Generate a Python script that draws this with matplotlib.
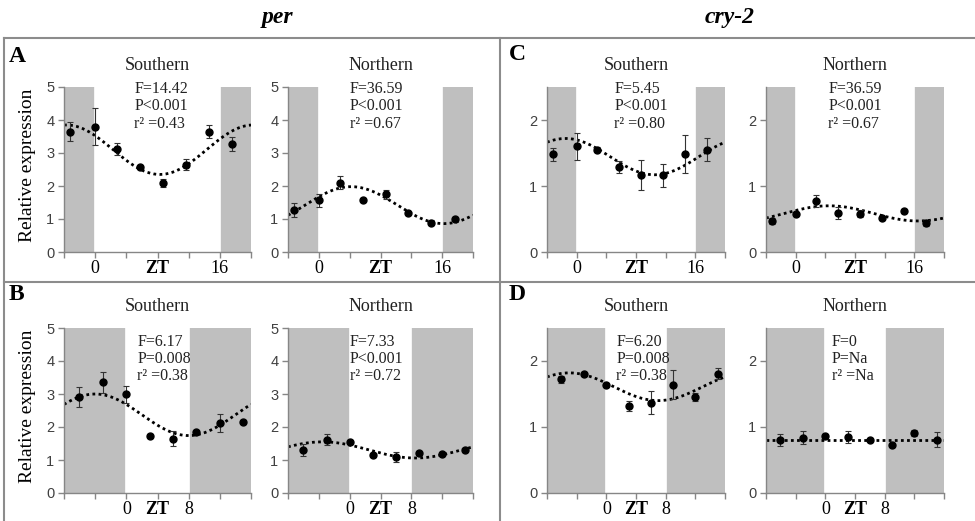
import numpy as np
import matplotlib
matplotlib.use("Agg")
import matplotlib.pyplot as plt
from matplotlib.lines import Line2D

plt.rcParams['font.family'] = ['Liberation Serif', 'DejaVu Serif']

W, H = 975, 521

# sampling times (ZT hours)
t_top = [-3.2, 0, 2.8, 5.7, 8.7, 11.6, 14.6, 17.6]
t_bot = [-6.1, -3.0, 0, 3.0, 6.0, 9.0, 12.0, 15.0]

# relative expression, mean and error
per_s_top = [3.65, 3.80, 3.12, 2.57, 2.08, 2.65, 3.65, 3.27]
per_s_top_err = [0.28, 0.57, 0.18, 0.03, 0.12, 0.17, 0.21, 0.21]
per_n_top = [1.27, 1.57, 2.10, 1.59, 1.75, 1.17, 0.89, 1.01]
per_n_top_err = [0.20, 0.20, 0.20, 0.04, 0.13, 0.04, 0.07, 0.04]
cry_s_top = [1.48, 1.60, 1.55, 1.29, 1.17, 1.16, 1.49, 1.55]
cry_s_top_err = [0.10, 0.20, 0.04, 0.09, 0.23, 0.18, 0.29, 0.17]
cry_n_top = [0.47, 0.58, 0.77, 0.59, 0.58, 0.52, 0.62, 0.44]
cry_n_top_err = [0.04, 0.03, 0.09, 0.09, 0.05, 0.03, 0.03, 0.05]
per_s_bot = [2.90, 3.35, 2.99, 1.73, 1.65, 1.84, 2.13, 2.16]
per_s_bot_err = [0.30, 0.33, 0.25, 0.05, 0.24, 0.04, 0.27, 0.04]
per_n_bot = [1.30, 1.62, 1.55, 1.14, 1.10, 1.20, 1.18, 1.30]
per_n_bot_err = [0.18, 0.17, 0.05, 0.04, 0.15, 0.04, 0.05, 0.06]
cry_s_bot = [1.72, 1.81, 1.63, 1.32, 1.37, 1.64, 1.46, 1.81]
cry_s_bot_err = [0.05, 0.03, 0.03, 0.07, 0.17, 0.22, 0.06, 0.09]
cry_n_bot = [0.80, 0.84, 0.87, 0.85, 0.81, 0.72, 0.91, 0.81]
cry_n_bot_err = [0.09, 0.10, 0.03, 0.09, 0.02, 0.02, 0.04, 0.12]

# cosinor fits: mesor, amplitude, acrophase (h)
fits = [(3.10, 0.75, -3.7), (1.42, 0.56, 4.2), (1.445, 0.275, -1.5), (0.585, 0.115, 4.5),
        (2.37, 0.63, -4.0), (1.305, 0.245, -3.5), (1.61, 0.21, -5.0), (0.81, 0.0, 0.0)]

stats = ["F=14.42\nP<0.001\nr² =0.43", "F=36.59\nP<0.001\nr² =0.67",
         "F=5.45\nP<0.001\nr² =0.80", "F=36.59\nP<0.001\nr² =0.67",
         "F=6.17\nP=0.008\nr² =0.38", "F=7.33\nP<0.001\nr² =0.72",
         "F=6.20\nP=0.008\nr² =0.38", "F=0\nP=Na\nr² =Na"]
stats_x = [5.0, 4.0, 5.1, 4.4, 1.4, 0.0, 1.35, 0.9]

means = [per_s_top, per_n_top, cry_s_top, cry_n_top, per_s_bot, per_n_bot, cry_s_bot, cry_n_bot]
errs = [per_s_top_err, per_n_top_err, cry_s_top_err, cry_n_top_err,
        per_s_bot_err, per_n_bot_err, cry_s_bot_err, cry_n_bot_err]
titles = ["Southern", "Northern"] * 4

cols = [(64, 251), (288, 473), (547, 725), (766, 944)]
rows = [(87, 252), (328, 493)]

fig = plt.figure(figsize=(W / 100, H / 100), dpi=100)

def cosinor(t, mesor, amp, phase):
    return mesor + amp * np.cos(2 * np.pi * (t - phase) / 24)

shade = '#BFBFBF'
axcol = '#868686'

for i in range(8):
    r, c = divmod(i, 4)
    x0, x1 = cols[c]
    y0, y1 = rows[r]
    ax = fig.add_axes([x0 / W, 1 - y1 / H, (x1 - x0) / W, (y1 - y0) / H])
    t = t_top if r == 0 else t_bot
    if r == 0:
        lo, hi, light_end = -4, 20, 16
        ticks = [-4, 0, 4, 8, 12, 16, 20]
        labels = ['', '0', '', 'ZT', '', '16', '']
    else:
        lo, hi, light_end = -8, 16, 8
        ticks = [-8, -4, 0, 4, 8, 12, 16]
        labels = ['', '', '0', 'ZT', '8', '', '']
    ymax = 5 if c < 2 else 2.5
    ax.axvspan(lo, 0, color=shade, lw=0, zorder=0)
    ax.axvspan(light_end, hi, color=shade, lw=0, zorder=0)
    # white gaps at light/dark edges
    ax.axvline(0, color='white', lw=1.2, zorder=0.5)
    ax.axvline(light_end, color='white', lw=1.2, zorder=0.5)

    tt = np.linspace(lo, hi, 300)
    m, a, p = fits[i]
    ax.plot(tt, cosinor(tt, m, a, p), color='black', lw=2, ls=(0, (1, 1.2)), zorder=2)
    ax.errorbar(t, means[i], yerr=errs[i], fmt='o', color='black', ms=5,
                ecolor='#333333', elinewidth=0.8, capsize=2.5, capthick=0.8, zorder=3)

    ax.set_xlim(lo, hi)
    ax.set_ylim(0, ymax)
    ax.set_xticks(ticks)
    ax.set_xticklabels(labels, fontsize=13)
    for lab in ax.get_xticklabels():
        if lab.get_text() == 'ZT':
            lab.set_fontweight('bold')
    ax.set_yticks(range(0, int(ymax) + 1))
    for lab in ax.get_yticklabels():
        lab.set_family('Liberation Sans')
        lab.set_fontsize(10.5)
        lab.set_color('#404040')
    for s in ['top', 'right']:
        ax.spines[s].set_visible(False)
    for s in ['left', 'bottom']:
        ax.spines[s].set_color(axcol)
        ax.spines[s].set_linewidth(1)
    ax.tick_params(axis='both', colors=axcol, length=4, width=1, labelcolor='black')
    ax.tick_params(axis='y', labelcolor='#404040', pad=3)
    ax.tick_params(axis='x', pad=2)
    ax.set_title(titles[i], fontsize=13, color='#222222', pad=12)
    ty = 1.035 if r == 0 else 0.965
    ax.text(stats_x[i], ty, stats[i], transform=ax.get_xaxis_transform(),
            ha='left', va='top', fontsize=11.5, color='#222222', linespacing=1.1, zorder=4)
    if c == 0:
        fig.text(28 / W, 1 - ((y0 + y1) / 2 - 4) / H, "Relative expression", rotation=90,
                 ha='center', va='center', fontsize=14)

# panel letters
for letter, (px, py) in zip("ABCD", [(9, 57), (9, 295), (509, 55), (509, 295)]):
    fig.text(px / W, 1 - py / H, letter, fontsize=17, fontweight='bold', ha='left', va='center')

# gene headers
fig.text(277 / W, 1 - 17 / H, "per", fontsize=17, fontweight='bold', style='italic',
         ha='center', va='center')
fig.text(730 / W, 1 - 17 / H, "cry-2", fontsize=17, fontweight='bold', style='italic',
         ha='center', va='center')

# frame lines
lc = '#8C8C8C'
for xs, ys in [([4, 975], [38.5, 38.5]), ([4, 975], [281.5, 281.5]),
               ([4, 4], [38.5, 521]), ([500, 500], [38.5, 521])]:
    fig.add_artist(Line2D([x / W for x in xs], [1 - y / H for y in ys], color=lc, lw=1.5))

fig.savefig("out.png", dpi=100)
